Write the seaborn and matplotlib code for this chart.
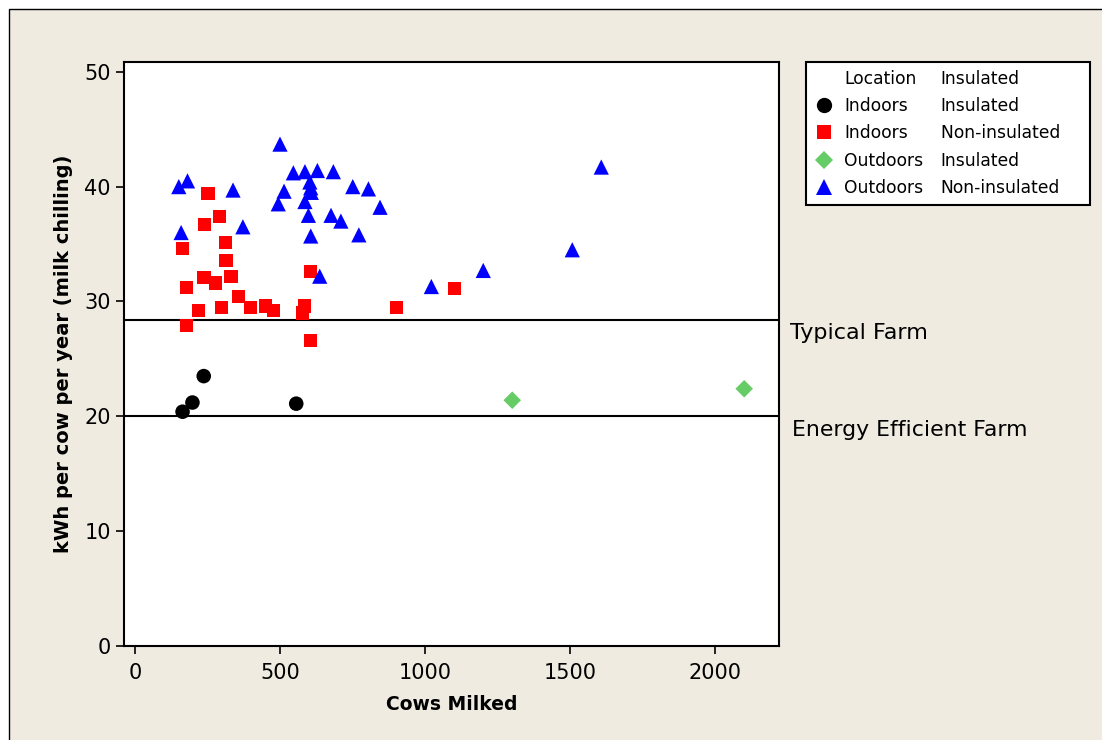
import pandas as pd
import seaborn as sns
import matplotlib.pyplot as plt
import matplotlib.lines as mlines
from matplotlib.patches import Rectangle

# data
indoor_ins_x = [163, 197, 236, 555]
indoor_ins_y = [20.4, 21.2, 23.5, 21.1]

indoor_non_x = [251, 290, 238, 163, 311, 313, 330, 237, 276, 177, 357, 396,
                297, 218, 448, 477, 584, 576, 603, 177, 603, 902, 1100]
indoor_non_y = [39.4, 37.4, 36.7, 34.6, 35.1, 33.6, 32.2, 32.1, 31.6, 31.2, 30.4, 29.5,
                29.5, 29.2, 29.6, 29.2, 29.6, 29.0, 32.6, 27.9, 26.6, 29.5, 31.1]

outdoor_ins_x = [1300, 2100]
outdoor_ins_y = [21.4, 22.4]

outdoor_non_x = [499, 180, 150, 337, 158, 371, 545, 585, 628, 683, 602, 605,
                 607, 513, 493, 585, 597, 750, 804, 844, 675, 709, 605, 771,
                 636, 1021, 1200, 1507, 1607]
outdoor_non_y = [43.7, 40.5, 40.0, 39.7, 36.0, 36.5, 41.2, 41.3, 41.4, 41.3, 40.4, 39.9,
                 39.5, 39.6, 38.5, 38.7, 37.5, 40.0, 39.8, 38.2, 37.5, 37.0, 35.7, 35.8,
                 32.2, 31.3, 32.7, 34.5, 41.7]

groups = ["Indoors Insulated", "Indoors Non-insulated", "Outdoors Insulated", "Outdoors Non-insulated"]
ref_lines = [28.4, 20]
ref_labels = ["Typical Farm", "Energy Efficient Farm"]

df = pd.concat([
    pd.DataFrame({"Cows": indoor_ins_x, "kWh": indoor_ins_y, "group": groups[0]}),
    pd.DataFrame({"Cows": indoor_non_x, "kWh": indoor_non_y, "group": groups[1]}),
    pd.DataFrame({"Cows": outdoor_ins_x, "kWh": outdoor_ins_y, "group": groups[2]}),
    pd.DataFrame({"Cows": outdoor_non_x, "kWh": outdoor_non_y, "group": groups[3]}),
])

palette = {groups[0]: "black", groups[1]: "#FF0000", groups[2]: "#66CC66", groups[3]: "#0000FF"}
markers = {groups[0]: "o", groups[1]: "s", groups[2]: "D", groups[3]: "^"}
sizes = {groups[0]: 110, groups[1]: 90, groups[2]: 80, groups[3]: 120}

sns.set_style("white")
plt.rcParams['font.family'] = ['DejaVu Sans']
plt.rcParams['text.color'] = "black"
plt.rcParams['axes.labelcolor'] = "black"
plt.rcParams['xtick.color'] = "black"
plt.rcParams['ytick.color'] = "black"

bg = "#EFEBE1"
fig = plt.figure(figsize=(11.02, 7.4), dpi=100, facecolor="white")
# beige background with a black border on the top and left side only
fig.add_artist(Rectangle((9 / 1102, 0), 1, 731 / 740, transform=fig.transFigure,
                         facecolor=bg, edgecolor="none", zorder=-10))
fig.add_artist(mlines.Line2D([9 / 1102, 9 / 1102, 1], [0, 731 / 740, 731 / 740],
                             transform=fig.transFigure, color="black", linewidth=1, zorder=-9))

ax = fig.add_axes([124 / 1102, (740 - 646) / 740, 655 / 1102, 584 / 740])
ax.set_facecolor("white")

sns.scatterplot(data=df, x="Cows", y="kWh", hue="group", style="group", size="group",
                palette=palette, markers=markers, sizes=sizes, linewidth=0,
                legend=False, ax=ax, zorder=3)

for yv in ref_lines:
    ax.axhline(yv, color="black", linewidth=1.5, zorder=2)

ax.set_xlim(-39, 2220)
ax.set_ylim(0, 50.85)
ax.set_xticks([0, 500, 1000, 1500, 2000])
ax.set_yticks([0, 10, 20, 30, 40, 50])
ax.tick_params(axis="both", direction="out", length=6, width=1.2, labelsize=15,
               bottom=True, left=True)
ax.tick_params(axis="x", pad=6)
for s in ax.spines.values():
    s.set_color("black")
    s.set_linewidth(1.5)

ax.set_xlabel("Cows Milked", fontsize=13.5, fontweight="bold", labelpad=9)
ax.set_ylabel("kWh per cow per year (milk chilling)", fontsize=14, fontweight="bold", labelpad=8)

# reference line labels outside the axes
fig.text(790 / 1102, 1 - 333 / 740, ref_labels[0], fontsize=16, va="center", ha="left")
fig.text(792 / 1102, 1 - 430 / 740, ref_labels[1], fontsize=15.8, va="center", ha="left")

# legend: marker column, location column, insulation column
blank = mlines.Line2D([], [], linestyle="", marker="")
msize = {"o": 11, "s": 9.5, "D": 9, "^": 11}
handles = [blank]
for g in groups:
    handles.append(mlines.Line2D([], [], linestyle="", marker=markers[g], color=palette[g],
                                 markeredgewidth=0, markersize=msize[markers[g]]))
handles += [blank] * 5
labels = ["Location", "Indoors", "Indoors", "Outdoors", "Outdoors",
          "Insulated", "Insulated", "Non-insulated    ", "Insulated", "Non-insulated"]
leg = ax.legend(handles, labels, ncol=2, loc="upper left", bbox_to_anchor=(806 / 1102, 1 - 62 / 740),
                bbox_transform=fig.transFigure, fontsize=12.3, frameon=True, fancybox=False,
                facecolor="white", framealpha=1, edgecolor="black",
                handlelength=1.2, handletextpad=0.6, columnspacing=-0.8,
                labelspacing=0.55, borderpad=0.45, borderaxespad=0)
leg.get_frame().set_linewidth(1.5)

fig.savefig("out.png", dpi=100, facecolor=fig.get_facecolor())
